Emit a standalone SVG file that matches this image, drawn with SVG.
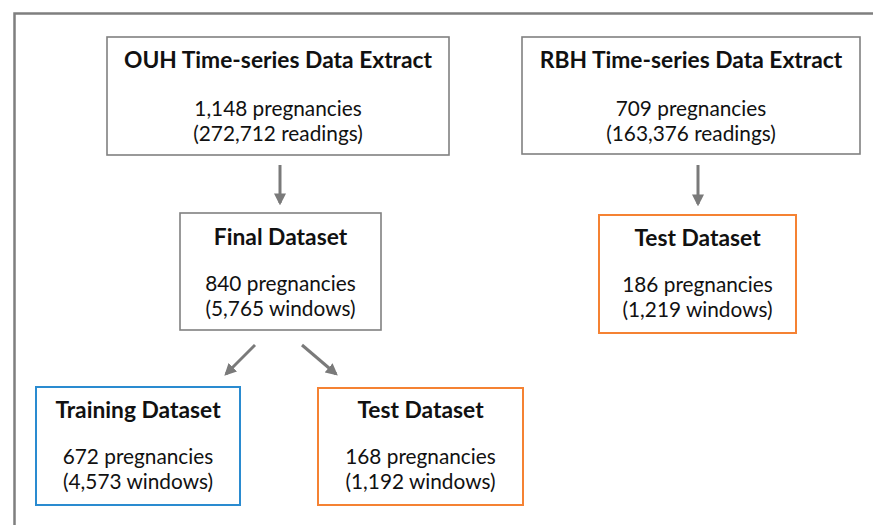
<svg xmlns="http://www.w3.org/2000/svg" width="873" height="525" viewBox="0 0 873 525">
<defs>
<style>
.t{font-family:Lato,"Liberation Sans",sans-serif;font-weight:bold;font-size:22.8px;fill:#111;text-anchor:middle}
.b{font-family:Lato,"Liberation Sans",sans-serif;font-size:20.8px;fill:#111;text-anchor:middle}
.g{fill:#fff;stroke:#808080;stroke-width:1.6}
.bl{fill:#fff;stroke:#2a8bd0;stroke-width:2}
.or{fill:#fff;stroke:#f58233;stroke-width:2}
.c{stroke:#7a7a7a;stroke-width:3;fill:none;marker-end:url(#ah)}
</style>
<marker id="ah" viewBox="0 0 10 10" refX="8" refY="5" markerWidth="4" markerHeight="4" markerUnits="strokeWidth" orient="auto">
<path d="M0,0 L10,5 L0,10 z" fill="#7a7a7a"/>
</marker>
</defs>
<rect width="873" height="525" fill="#fff"/>
<path d="M14.5,540 L14.5,13.5 L890,13.5" fill="none" stroke="#7f7f7f" stroke-width="2.5"/>
<g id="ouh">
<rect class="g" x="107" y="37" width="342" height="118"/>
<text class="t" x="278" y="68">OUH Time-series Data Extract</text>
<text class="b" x="278" y="116">1,148 pregnancies</text>
<text class="b" x="278" y="141">(272,712 readings)</text>
</g>
<g id="rbh">
<rect class="g" x="522" y="37" width="338" height="117"/>
<text class="t" x="691" y="68">RBH Time-series Data Extract</text>
<text class="b" x="691" y="116">709 pregnancies</text>
<text class="b" x="691" y="141">(163,376 readings)</text>
</g>
<g id="final">
<rect class="g" x="180" y="213" width="201" height="117"/>
<text class="t" x="280.5" y="245">Final Dataset</text>
<text class="b" x="280.5" y="291">840 pregnancies</text>
<text class="b" x="280.5" y="316">(5,765 windows)</text>
</g>
<g id="rbhtest">
<rect class="or" x="599" y="215" width="197" height="118"/>
<text class="t" x="697.5" y="246">Test Dataset</text>
<text class="b" x="697.5" y="292">186 pregnancies</text>
<text class="b" x="697.5" y="317">(1,219 windows)</text>
</g>
<g id="training">
<rect class="bl" x="36" y="387" width="204" height="118"/>
<text class="t" x="138" y="418">Training Dataset</text>
<text class="b" x="138" y="464">672 pregnancies</text>
<text class="b" x="138" y="489">(4,573 windows)</text>
</g>
<g id="test">
<rect class="or" x="318" y="388" width="205" height="117"/>
<text class="t" x="420.5" y="418">Test Dataset</text>
<text class="b" x="420.5" y="464">168 pregnancies</text>
<text class="b" x="420.5" y="489">(1,192 windows)</text>
</g>
<g id="connectors">
<path class="c" d="M280,165 L280,203"/>
<path class="c" d="M698,165 L698,204"/>
<path class="c" d="M255,345 L226,374"/>
<path class="c" d="M302,345 L336,374"/>
</g>
</svg>
